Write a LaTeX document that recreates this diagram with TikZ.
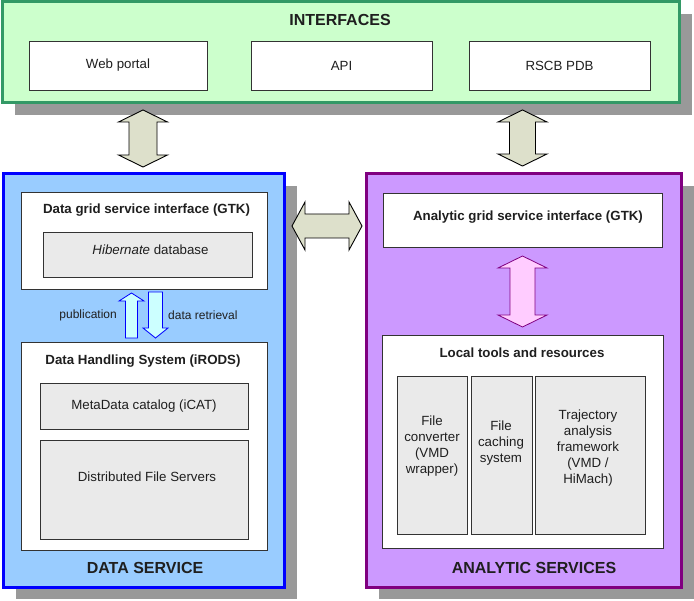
\documentclass[tikz,border=0pt]{standalone}
\usepackage{fontspec}
\setmainfont{Liberation Sans}
\usetikzlibrary{shadows}

\definecolor{ifcfill}{HTML}{CCFFCC}
\definecolor{ifcline}{HTML}{339966}
\definecolor{dsfill}{HTML}{99CCFF}
\definecolor{dsline}{HTML}{0000FF}
\definecolor{asfill}{HTML}{CC99FF}
\definecolor{asline}{HTML}{800080}
\definecolor{boxgray}{HTML}{EAEAEA}
\definecolor{shadowgray}{HTML}{999999}
\definecolor{linkfill}{HTML}{DDE0CB}
\definecolor{pubfill}{HTML}{CCFFFF}
\definecolor{toolfill}{HTML}{FFCCFF}

% vertical block arrow with two heads: style, x, y top, y bottom, half shaft, half head, head length
\newcommand\vdblarrow[7]{%
  \draw[#1] (#2,#3) -- (#2+#6,#3+#7) -- (#2+#5,#3+#7) -- (#2+#5,#4-#7) -- (#2+#6,#4-#7)
    -- (#2,#4) -- (#2-#6,#4-#7) -- (#2-#5,#4-#7) -- (#2-#5,#3+#7) -- (#2-#6,#3+#7) -- cycle;}
% horizontal block arrow with two heads: style, y, x left, x right, half shaft, half head, head length
\newcommand\hdblarrow[7]{%
  \draw[#1] (#3,#2) -- (#3+#7,#2-#6) -- (#3+#7,#2-#5) -- (#4-#7,#2-#5) -- (#4-#7,#2-#6)
    -- (#4,#2) -- (#4-#7,#2+#6) -- (#4-#7,#2+#5) -- (#3+#7,#2+#5) -- (#3+#7,#2+#6) -- cycle;}

\begin{document}
\begin{tikzpicture}[x=1pt,y=-1pt,
  panel/.style={draw,line width=3pt,inner sep=0pt,
    general shadow={fill=shadowgray,shadow xshift=13pt,shadow yshift=-12pt}},
  whitebox/.style={draw=black!80,fill=white,line width=0.8pt,inner sep=0pt},
  graybox/.style={whitebox,fill=boxgray},
  txt/.style={font=\fontsize{13.3}{16}\selectfont,text=black!88,align=center,inner sep=0pt},
  ttl/.style={txt,font=\bfseries\fontsize{13.3}{16}\selectfont},
  big/.style={txt,font=\bfseries\fontsize{16}{19}\selectfont},
  lbl/.style={txt,font=\fontsize{12}{14}\selectfont},
  link/.style={draw=black,fill=linkfill,line width=0.9pt},
  pub/.style={draw=dsline,fill=pubfill,line width=0.8pt},
  tool/.style={draw=asline,fill=toolfill,line width=0.8pt}
]
\path[use as bounding box] (0,0) rectangle (694,601);

% interfaces
\node[panel,draw=ifcline,fill=ifcfill,minimum width=677pt,minimum height=101pt] (ifc) at (340.5,52.5) {};
\node[big] (ifctitle) at (340,20) {INTERFACES};
\node[whitebox,txt,minimum width=178pt,minimum height=49pt] (web) at (118,65.5) {Web portal};
\node[whitebox,txt,minimum width=181pt,minimum height=49pt] (api) at (341.5,65.5) {API};
\node[whitebox,txt,minimum width=181pt,minimum height=49pt] (pdb) at (559.5,65.5) {RSCB PDB};

% data service
\node[panel,draw=dsline,fill=dsfill,minimum width=281pt,minimum height=413pt] (ds) at (143.5,380.5) {};
\node[whitebox,minimum width=246pt,minimum height=97pt] (dgsi) at (144,240.5) {};
\node[ttl] (dgsititle) at (146.5,210) {Data grid service interface (GTK)};
\node[graybox,minimum width=209pt,minimum height=45pt] (hib) at (147.5,254.5) {};
\node[txt] (hibtxt) at (150.5,250) {\itshape Hibernate\/\upshape{} database};

\node[whitebox,minimum width=246pt,minimum height=208pt] (dhs) at (144,446) {};
\node[ttl] (dhstitle) at (143,361) {Data Handling System (iRODS)};
\node[graybox,txt,minimum width=208pt,minimum height=46pt] (icat) at (144,406) {MetaData catalog (iCAT)};
\node[graybox,minimum width=208pt,minimum height=99pt] (dfs) at (144,489.5) {};
\node[txt] (dfstxt) at (147,477) {Distributed File Servers};
\node[big] (dstitle) at (145,568) {DATA SERVICE};

\node[lbl,anchor=east] (publbl) at (117,315) {publication};
\node[lbl,anchor=west] (retlbl) at (168,315) {data retrieval};
\draw[pub] (131.5,293) -- (144,301) -- (137.5,301) -- (137.5,338) -- (125.5,338) -- (125.5,301) -- (119,301) -- cycle;
\draw[pub] (155.5,338) -- (168,328) -- (162.5,328) -- (162.5,292) -- (148.5,292) -- (148.5,328) -- (143,328) -- cycle;

% analytic services
\node[panel,draw=asline,fill=asfill,minimum width=315pt,minimum height=413pt] (as) at (523.5,380.5) {};
\node[whitebox,minimum width=279pt,minimum height=54pt] (agsi) at (522.5,220) {};
\node[ttl] (agsititle) at (528,217) {Analytic grid service interface (GTK)};

\node[whitebox,minimum width=281pt,minimum height=213pt] (lt) at (522.5,441.5) {};
\node[ttl] (lttitle) at (522,353) {Local tools and resources};
\node[graybox,minimum width=70pt,minimum height=158pt] (fc) at (432,455) {};
\node[txt] (fctxt) at (432,446) {File\\converter\\(VMD\\wrapper)};
\node[graybox,minimum width=61pt,minimum height=158pt] (fcs) at (501.5,455) {};
\node[txt] (fcstxt) at (501,443) {File\\caching\\system};
\node[graybox,minimum width=110pt,minimum height=158pt] (taf) at (590,455) {};
\node[txt] (taftxt) at (588,448) {Trajectory\\analysis\\framework\\(VMD /\\HiMach)};
\node[big] (astitle) at (534,568) {ANALYTIC SERVICES};

% block arrows between the parts
\vdblarrow{link}{143}{110}{167}{14}{24.5}{12}
\vdblarrow{link}{522.5}{110}{166}{13}{24.5}{12}
\hdblarrow{link}{226}{292}{362}{12}{24}{13}
\vdblarrow{tool}{522.5}{256}{327}{12.5}{24.5}{12}
\end{tikzpicture}
\end{document}
